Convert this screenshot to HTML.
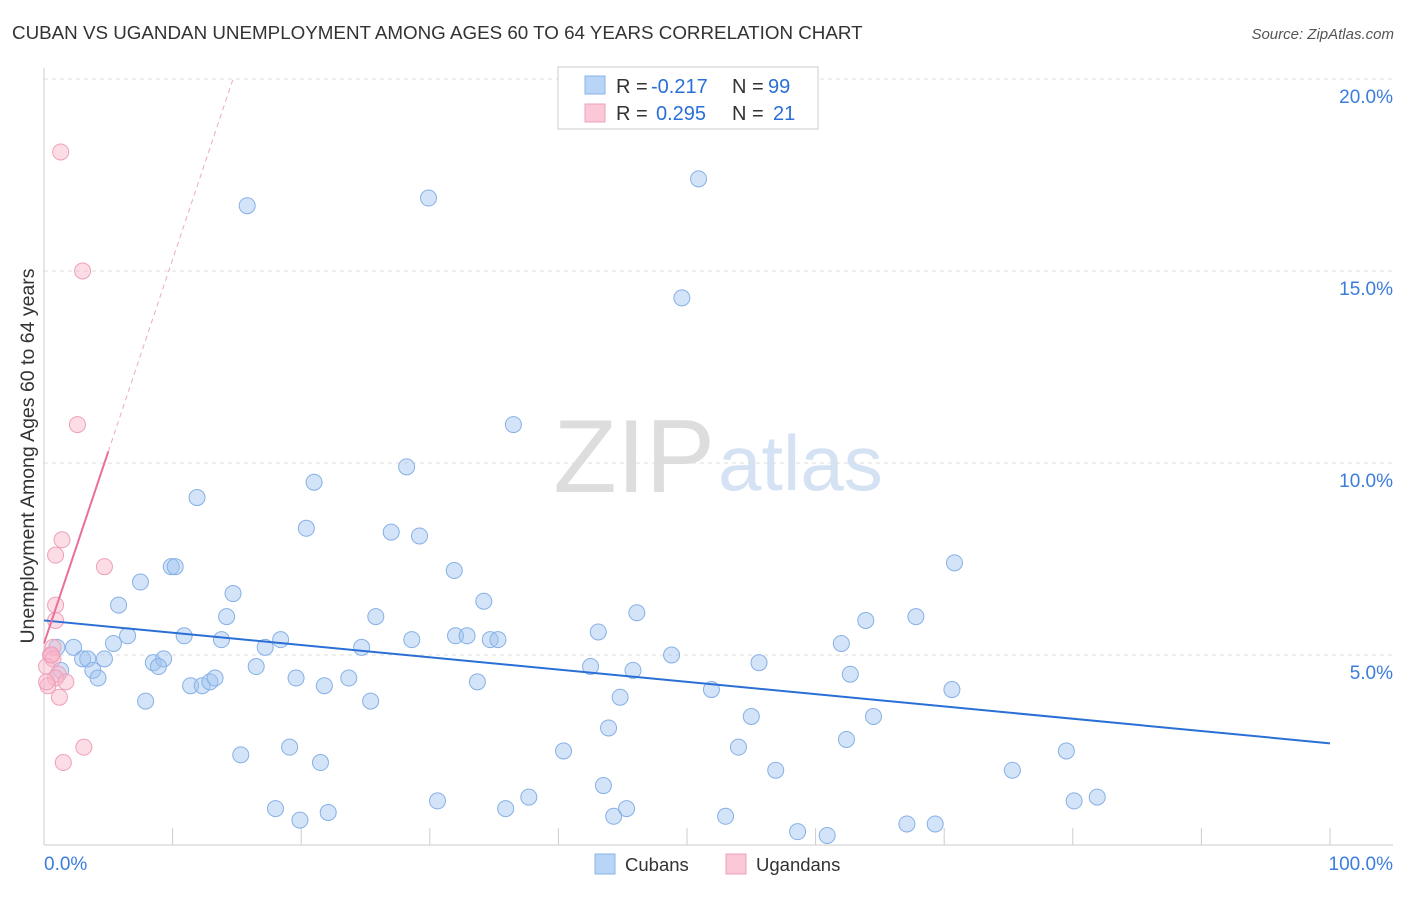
<!DOCTYPE html>
<html><head><meta charset="utf-8"><style>
body{margin:0;background:#fff;font-family:"Liberation Sans",sans-serif;}
svg text{font-family:"Liberation Sans",sans-serif;}
</style></head><body>
<svg id="chart" width="1406" height="892">
<text x="12" y="39" font-size="18.8" fill="#333">CUBAN VS UGANDAN UNEMPLOYMENT AMONG AGES 60 TO 64 YEARS CORRELATION CHART</text>
<text x="1394" y="39" font-size="15" fill="#555" text-anchor="end" font-style="italic">Source: ZipAtlas.com</text>
<text x="715" y="492" font-size="104" fill="#ddd" text-anchor="end" font-family="Liberation Serif">ZIP</text>
<text x="718" y="490" font-size="78" fill="#d4e2f4">atlas</text>
<text transform="translate(34,456) rotate(-90)" font-size="19.5" fill="#333" text-anchor="middle">Unemployment Among Ages 60 to 64 years</text>
<g id="grid"></g><g id="pts"></g><g id="lines"></g>
<g>
<rect x="558" y="67" width="260" height="62" fill="#fff" stroke="#ccc"/>
<rect x="585" y="76" width="20" height="18" fill="#b8d4f6" stroke="#8ab4e8"/>
<rect x="585" y="104" width="20" height="18" fill="#fbc8d8" stroke="#f0a0b8"/>
<text x="616" y="93" font-size="20" fill="#333">R =</text>
<text x="651" y="93" font-size="20" fill="#2a6fd6">-0.217</text>
<text x="732" y="93" font-size="20" fill="#333">N =</text>
<text x="768" y="93" font-size="20" fill="#2a6fd6">99</text>
<text x="616" y="120" font-size="20" fill="#333">R =</text>
<text x="656" y="120" font-size="20" fill="#2a6fd6">0.295</text>
<text x="732" y="120" font-size="20" fill="#333">N =</text>
<text x="773" y="120" font-size="20" fill="#2a6fd6">21</text>
</g>
<g>
<rect x="595" y="854" width="20" height="20" fill="#b8d4f6" stroke="#8ab4e8"/>
<text x="625" y="871" font-size="18.5" fill="#333">Cubans</text>
<rect x="726" y="854" width="20" height="20" fill="#fbc8d8" stroke="#f0a0b8"/>
<text x="756" y="871" font-size="18.5" fill="#333">Ugandans</text>
</g>
</svg>
<script>
const xTicks=[0,10,20,30,40,50,60,70,80,90,100];
const yTicks=[5,10,15,20];
const yTickLabels=["5.0%","10.0%","15.0%","20.0%"];
const cubanX=[15.8,29.9,50.9,49.6,36.5,11.9,28.2,21.0,20.4,27.0,29.2,7.5,9.9,10.2,14.7,31.9,70.8,5.8,34.2,46.1,25.8,14.2,63.9,67.8,6.5,10.9,13.8,18.4,28.6,32.0,32.9,34.7,35.3,43.1,62.0,2.3,1.0,5.4,17.2,24.7,3.0,3.4,4.7,8.5,9.3,8.9,48.8,55.6,42.5,45.8,16.5,3.8,4.2,1.3,62.7,19.6,23.7,11.4,12.3,12.9,13.3,21.8,33.7,51.9,70.6,7.9,25.4,44.8,55.0,64.5,43.9,54.0,62.4,15.3,19.1,40.4,79.5,21.5,56.9,75.3,43.5,30.6,37.7,80.1,81.9,18.0,35.9,45.3,22.1,19.9,44.3,53.0,58.6,60.9,67.1,69.3];
const cubanY=[16.7,16.9,17.4,14.3,11.0,9.1,9.9,9.5,8.3,8.2,8.1,6.9,7.3,7.3,6.6,7.2,7.4,6.3,6.4,6.1,6.0,6.0,5.9,6.0,5.5,5.5,5.4,5.4,5.4,5.5,5.5,5.4,5.4,5.6,5.3,5.2,5.2,5.3,5.2,5.2,4.9,4.9,4.9,4.8,4.9,4.7,5.0,4.8,4.7,4.6,4.7,4.6,4.4,4.6,4.5,4.4,4.4,4.2,4.2,4.3,4.4,4.2,4.3,4.1,4.1,3.8,3.8,3.9,3.4,3.4,3.1,2.6,2.8,2.4,2.6,2.5,2.5,2.2,2.0,2.0,1.6,1.2,1.3,1.2,1.3,1.0,1.0,1.0,0.9,0.7,0.8,0.8,0.4,0.3,0.6,0.6];
const ugandanX=[1.3,3.0,2.6,1.4,0.9,4.7,0.9,0.9,0.7,0.5,0.7,0.2,1.1,0.9,1.7,0.3,1.2,3.1,1.5,0.2,0.6];
const ugandanY=[18.1,15.0,11.0,8.0,7.6,7.3,6.3,5.9,5.2,5.0,4.9,4.7,4.5,4.4,4.3,4.2,3.9,2.6,2.2,4.3,5.0];
const cubanTrend=[5.9,2.7]; // y at x=0, x=100
const ugandanTrend=[5.3,1.0]; // intercept, slope
const NS="http://www.w3.org/2000/svg";
const xs=v=>44+v*12.86, ys=v=>847-v*38.4;
function mk(tag,attrs,parent){const e=document.createElementNS(NS,tag);for(const k in attrs)e.setAttribute(k,attrs[k]);document.getElementById(parent).appendChild(e);return e;}
yTicks.forEach((t,i)=>{
 const g=mk('line',{x1:44,x2:1393,y1:ys(t),y2:ys(t),stroke:'#ddd','stroke-dasharray':'4,4'},'grid');
 
 
 const l=mk('text',{x:1393,y:ys(t)+24,'font-size':19,fill:'#3b7ddd','text-anchor':'end'},'grid');
 l.textContent=yTickLabels[i];
 
 
});
mk('line',{x1:44,x2:44,y1:68,y2:845,stroke:'#ccc'},'grid');
mk('line',{x1:44,x2:1393,y1:845,y2:845,stroke:'#ccc'},'grid');
xTicks.forEach(t=>{const k=mk('line',{x1:xs(t),x2:xs(t),y1:828,y2:845,stroke:'#ccc'},'grid');
 
 });
const x0=mk('text',{x:44,y:870,'font-size':19,fill:'#3b7ddd'},'grid');x0.textContent='0.0%';


const x1=mk('text',{x:1393,y:870,'font-size':19,fill:'#3b7ddd','text-anchor':'end'},'grid');x1.textContent='100.0%';


cubanX.forEach((v,i)=>{const c=mk('circle',{cx:xs(v),cy:ys(cubanY[i]),r:8,fill:'rgba(160,196,240,0.45)',stroke:'#86b0e6','stroke-width':1},'pts');
 
 });
ugandanX.forEach((v,i)=>{const c=mk('circle',{cx:xs(v),cy:ys(ugandanY[i]),r:8,fill:'rgba(248,180,200,0.45)',stroke:'#eea0b8','stroke-width':1},'pts');
 
 });
const cl=mk('line',{x1:xs(0),y1:ys(cubanTrend[0]),x2:xs(100),y2:ys(cubanTrend[1]),stroke:'#2a6fd6','stroke-width':2},'lines');


const uEnd=5, uDash=(20-ugandanTrend[0])/ugandanTrend[1];
const ul=mk('line',{x1:xs(0),y1:ys(ugandanTrend[0]),x2:xs(uEnd),y2:ys(ugandanTrend[0]+ugandanTrend[1]*uEnd),stroke:'#e8709a','stroke-width':2},'lines');


const ud=mk('line',{x1:xs(uEnd),y1:ys(ugandanTrend[0]+ugandanTrend[1]*uEnd),x2:xs(uDash),y2:ys(20),stroke:'#eeaac0','stroke-width':1,'stroke-dasharray':'5,4'},'lines');


</script>
</body></html>
